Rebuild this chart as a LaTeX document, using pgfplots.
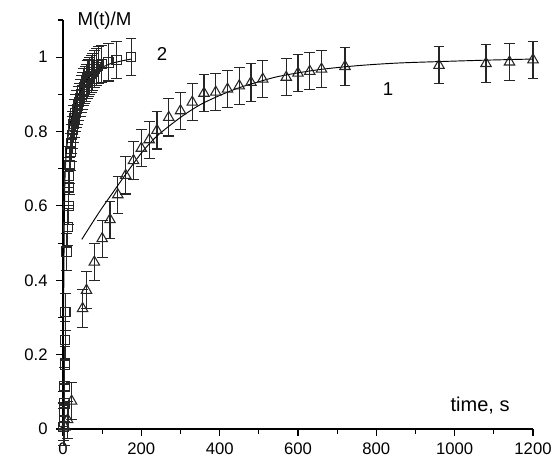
\documentclass[border=0pt]{standalone}
\usepackage{fontspec}
\setmainfont{Liberation Sans}
\usepackage{pgfplots}
\pgfplotsset{compat=1.18}
\usetikzlibrary{calc}

\pgfplotsset{
  errstyle/.style={
    error bars/.cd, y dir=both, y fixed=0.05,
    error bar style={line width=0.8pt, black!85},
    error mark options={rotate=90, mark size=4pt, line width=0.8pt, black!85},
  },
}

\begin{document}
\begin{tikzpicture}
\begin{axis}[
  name=ax,
  scale only axis,
  width=352.5pt, height=306.75pt,
  xmin=0, xmax=1200, ymin=0, ymax=1.1,
  axis x line*=bottom, axis y line*=left,
  axis line style={line width=0.8pt},
  xtick={0,200,400,600,800,1000,1200},
  minor xtick={100,300,500,700,900,1100},
  ytick={0,0.2,0.4,0.6,0.8,1},
  minor ytick={0.1,0.3,0.5,0.7,0.9,1.1},
  tick align=outside,
  major tick length=5pt, minor tick length=3.5pt,
  tick style={line width=0.8pt, black},
  tick label style={font=\fontsize{12.5}{14}\selectfont},
  xticklabel style={yshift=-1.5pt},
  yticklabel style={xshift=-3pt},
  /pgf/number format/assume math mode=true,
  /pgf/number format/1000 sep={},
  clip=false,
]

% series 1, triangles
\addplot[black!85, only marks, mark=triangle, mark size=4.5pt,
  mark options={line width=0.8pt}, errstyle] coordinates {
  (5,0.005) (12,0.025) (22,0.075)
  (50,0.324) (60,0.373) (80,0.449) (100,0.512) (120,0.563) (140,0.630)
  (160,0.682) (180,0.722) (200,0.755) (220,0.778) (240,0.803) (270,0.838)
  (300,0.856) (330,0.879) (360,0.903) (390,0.906) (420,0.914) (450,0.923)
  (480,0.932) (510,0.941) (570,0.946) (600,0.957) (630,0.962) (660,0.968)
  (720,0.975) (960,0.978) (1080,0.983) (1140,0.987) (1200,0.993)
};

% series 2, squares
\addplot[black!85, only marks, mark=square, mark size=3.5pt,
  mark options={line width=0.8pt}, errstyle] coordinates {
  (1,0.005) (2,0.02) (3,0.05) (3.5,0.07) (4,0.115) (5,0.173) (5.5,0.24)
  (6,0.315) (9,0.477) (12,0.543) (14,0.60) (15,0.65) (16,0.68) (17,0.71)
  (19,0.745) (21,0.77) (23,0.79) (25,0.805) (27,0.82) (29,0.835) (32,0.85)
  (35,0.86) (38,0.87) (41,0.88) (44,0.89) (47,0.90) (50,0.91) (53,0.92)
  (56,0.925) (59,0.93) (62,0.94) (65,0.945) (68,0.95) (72,0.955) (76,0.96)
  (80,0.968) (85,0.974) (90,0.978) (99,0.981) (116,0.986) (137,0.992)
  (174,1.0)
};

% fit curves
\addplot[black, line width=0.7pt, smooth] coordinates {
  (48,0.510) (80,0.563) (100,0.595) (130,0.640) (160,0.685) (200,0.742)
  (240,0.788) (300,0.838) (350,0.872) (400,0.897) (450,0.918) (500,0.934)
  (554,0.949) (650,0.966) (750,0.977) (850,0.984) (956,0.988) (1080,0.992)
  (1200,0.995)
};
\addplot[black, line width=0.7pt, smooth] coordinates {
  (0,0) (1,0.2) (2,0.38) (3,0.52) (4,0.62) (5,0.67) (7,0.72) (10,0.76)
  (15,0.8) (20,0.83) (30,0.87) (40,0.9) (55,0.93) (70,0.95) (90,0.967)
  (120,0.982) (150,0.99) (175,0.995)
};

\node[anchor=west, font=\fontsize{14}{16}\selectfont] at (axis cs:25,1.098) {M(t)/M};
\node[font=\fontsize{14}{16}\selectfont] at (axis cs:253,1.009) {2};
\node[font=\fontsize{14}{16}\selectfont] at (axis cs:830,0.915) {1};
\node[font=\fontsize{15}{17}\selectfont] at (axis cs:1065,0.064) {time, s};
\end{axis}
\pgfresetboundingbox
\path ($(ax.south west)+(-47.25pt,-21.75pt)$) rectangle ($(ax.north east)+(16.5pt,15pt)$);
\end{tikzpicture}
\end{document}
